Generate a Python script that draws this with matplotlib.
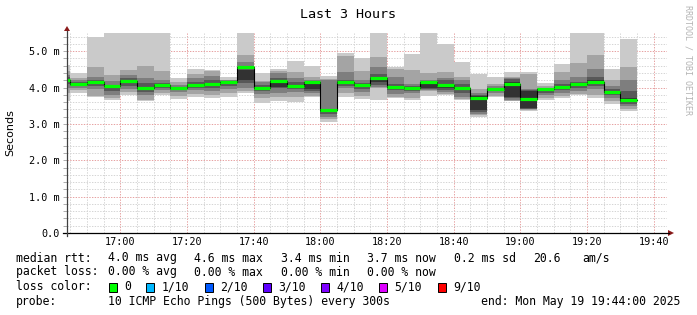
import matplotlib
matplotlib.use("Agg")
import matplotlib.pyplot as plt
import numpy as np
from matplotlib.lines import Line2D
from matplotlib.patches import Polygon, Rectangle
from matplotlib.ticker import MultipleLocator, FixedLocator

# ---------------- data ----------------
title = "Last 3 Hours"
first_bin = "16:40"          # start of first 5-minute bin
step_min = 5
view_start = "16:44"
view_end = "19:44"
x_tick_labels = ["17:00", "17:20", "17:40", "18:00", "18:20", "18:40", "19:00", "19:20", "19:40"]
y_tick_values = [0, 1, 2, 3, 4, 5]
y_tick_labels = ["0.0", "1.0 m", "2.0 m", "3.0 m", "4.0 m", "5.0 m"]

# sorted ping RTTs per bin (ms), rank 1 (fastest) .. rank 10 (slowest)
ping_1 = [3.62, 3.85, 3.74, 3.65, 3.79, 3.64, 3.79, 3.69, 3.75, 3.72, 3.75, 3.85, 3.57, 3.62, 3.60, 3.73, 3.06, 3.73,
          3.68, 3.67, 3.70, 3.65, 3.78, 3.79, 3.65, 3.19, 3.73, 3.62, 3.36, 3.65, 3.72, 3.79, 3.71, 3.56, 3.36]
ping_2 = [3.85, 3.92, 3.77, 3.72, 3.88, 3.66, 3.85, 3.78, 3.82, 3.80, 3.85, 3.90, 3.70, 3.73, 3.75, 3.78, 3.14, 3.85,
          3.78, 3.98, 3.75, 3.72, 3.90, 3.82, 3.68, 3.24, 3.78, 3.64, 3.38, 3.72, 3.78, 3.82, 3.80, 3.62, 3.42]
ping_3 = [4.00, 3.98, 3.95, 3.80, 3.95, 3.80, 3.92, 3.88, 3.92, 3.90, 3.95, 3.98, 3.82, 3.85, 3.88, 3.85, 3.20, 3.98,
          3.88, 4.02, 3.82, 3.85, 3.93, 3.88, 3.75, 3.28, 3.85, 3.67, 3.40, 3.80, 3.86, 3.90, 3.95, 3.70, 3.50]
ping_4 = [4.10, 4.03, 4.03, 3.90, 4.05, 3.88, 3.98, 3.93, 4.00, 4.00, 4.05, 4.12, 3.90, 3.98, 3.95, 3.90, 3.26, 4.05,
          3.97, 4.08, 3.92, 3.90, 3.95, 3.94, 3.85, 3.33, 3.90, 3.70, 3.42, 3.85, 3.93, 3.98, 4.05, 3.80, 3.55]
ping_5 = [4.17, 4.09, 4.12, 4.01, 4.14, 3.96, 4.04, 3.96, 4.05, 4.06, 4.12, 4.20, 3.96, 4.02, 4.02, 3.95, 3.33, 4.12,
          4.04, 4.14, 4.00, 3.97, 3.98, 4.00, 3.95, 3.38, 3.94, 3.74, 3.45, 3.90, 3.98, 4.05, 4.12, 3.85, 3.60]
ping_6 = [4.24, 4.13, 4.16, 4.05, 4.20, 4.00, 4.10, 4.00, 4.11, 4.12, 4.16, 4.49, 4.02, 4.18, 4.08, 4.12, 3.37, 4.17,
          4.08, 4.28, 4.04, 4.00, 4.10, 4.10, 4.02, 3.76, 3.98, 4.14, 3.90, 3.93, 4.05, 4.12, 4.20, 3.90, 3.70]
ping_7 = [4.28, 4.16, 4.22, 4.08, 4.26, 4.12, 4.13, 4.02, 4.15, 4.20, 4.17, 4.57, 4.06, 4.25, 4.15, 4.16, 3.40, 4.22,
          4.12, 4.37, 4.10, 4.03, 4.12, 4.21, 4.10, 3.80, 4.00, 4.24, 3.92, 3.95, 4.10, 4.15, 4.30, 3.95, 3.90]
ping_8 = [4.35, 4.20, 4.30, 4.18, 4.35, 4.27, 4.22, 4.08, 4.25, 4.32, 4.20, 4.71, 4.14, 4.40, 4.26, 4.20, 4.21, 4.44,
          4.22, 4.57, 4.30, 4.10, 4.22, 4.26, 4.20, 3.85, 4.03, 4.27, 3.95, 3.98, 4.20, 4.30, 4.52, 4.05, 4.22]
ping_9 = [4.45, 4.26, 4.57, 4.35, 4.48, 4.60, 4.46, 4.15, 4.38, 4.45, 4.22, 4.89, 4.18, 4.45, 4.44, 4.28, 4.24, 4.86,
          4.45, 4.84, 4.50, 4.48, 4.39, 4.43, 4.28, 3.95, 4.10, 4.30, 4.38, 4.05, 4.43, 4.68, 4.89, 4.22, 4.57]
ping_10 = [4.62, 4.41, 5.39, 5.80, 5.80, 5.80, 5.80, 4.25, 4.51, 4.48, 4.28, 5.80, 4.40, 4.50, 4.72, 4.60, 4.31, 4.94,
           4.80, 5.80, 4.57, 4.92, 5.80, 5.21, 4.69, 4.36, 4.30, 4.43, 4.42, 4.13, 4.64, 5.80, 5.80, 4.52, 5.33]
median = [4.21, 4.11, 4.14, 4.03, 4.17, 3.98, 4.07, 3.98, 4.08, 4.09, 4.15, 4.56, 4.00, 4.19, 4.05, 4.14, 3.37, 4.15,
          4.07, 4.27, 4.02, 3.99, 4.16, 4.07, 4.00, 3.72, 3.96, 4.10, 3.69, 3.95, 4.01, 4.09, 4.15, 3.87, 3.66]

# legend statistics as printed
rtt_stats = ["4.0 ms avg", "4.6 ms max", "3.4 ms min", "3.7 ms now", "0.2 ms sd", "20.6", "am/s"]
loss_stats = ["0.00 % avg", "0.00 % max", "0.00 % min", "0.00 % now"]
loss_labels = ["0", "1/10", "2/10", "3/10", "4/10", "5/10", "9/10"]
loss_colors = ["#00ff00", "#00b8ff", "#0059ff", "#5e00ff", "#7e00ff", "#dd00ff", "#ff0000"]
probe_text = "10 ICMP Echo Pings (500 Bytes) every 300s"
end_text = "end: Mon May 19 19:44:00 2025"

# ---------------- helpers ----------------
def tmin(s):
    h, m = s.split(":")
    return int(h) * 60 + int(m)

W, H = 697, 315
fig = plt.figure(figsize=(W / 100, H / 100), dpi=100)
fig.patch.set_facecolor("white")

L, R, B, T = 67, 667, 233, 33
ax = fig.add_axes([L / W, 1 - B / H, (R - L) / W, (B - T) / H])
ax.set_facecolor("white")

n = len(median)
edges = tmin(first_bin) + step_min * np.arange(n + 1)
pings = [ping_1, ping_2, ping_3, ping_4, ping_5, ping_6, ping_7, ping_8, ping_9, ping_10]
shades = ["#cacaca", "#a4a4a4", "#7e7e7e", "#585858", "#323232"]
for i in range(5):
    lo = np.array(pings[i], dtype=float)
    hi = np.array(pings[9 - i], dtype=float)
    ax.fill_between(edges, np.append(lo, lo[-1]), np.append(hi, hi[-1]), step="post",
                    color=shades[i], lw=0, antialiased=False, zorder=1)

med = np.array(median, dtype=float)
ax.step(edges, np.append(med, med[-1]), where="post", color="#000000", lw=0.8, zorder=4)
ax.hlines(med, edges[:-1], edges[1:], colors="#00ff00", lw=2.3, zorder=5, capstyle="butt")

ax.set_xlim(tmin(view_start), tmin(view_end))
ax.set_ylim(0, 5.5)

# grid
xt = [tmin(s) for s in x_tick_labels]
ax.xaxis.set_major_locator(FixedLocator(xt))
ax.xaxis.set_minor_locator(MultipleLocator(5))
ax.set_xticklabels(x_tick_labels)
ax.set_yticks(y_tick_values)
ax.set_yticklabels(y_tick_labels)
ax.yaxis.set_minor_locator(MultipleLocator(0.2))
ax.set_axisbelow(True)
ax.grid(which="minor", color="#d4d4d4", lw=0.7, linestyle=(0, (1.4, 1.4)))
ax.grid(which="major", color="#e6a0a0", lw=0.7, linestyle=(0, (1.4, 1.4)))

for sp in ax.spines.values():
    sp.set_visible(False)
mono = "DejaVu Sans Mono"
ax.tick_params(axis="y", which="both", length=3, width=0.6, color="#a0a0a0", direction="out", pad=2.0)
ax.tick_params(axis="x", which="both", length=0, pad=3.0)
for lab in ax.get_yticklabels() + ax.get_xticklabels():
    lab.set_fontfamily(mono)
    lab.set_fontsize(7.3)

# axes lines and arrows
fig.add_artist(Line2D([63 / W, 669 / W], [1 - 233 / H] * 2, transform=fig.transFigure, color="black", lw=0.9))
fig.add_artist(Line2D([67 / W] * 2, [1 - 236 / H, 1 - 31 / H], transform=fig.transFigure, color="#404040", lw=0.9))
arrow_c = "#8b1a1a"
fig.add_artist(Polygon([[64 / W, 1 - 31 / H], [70 / W, 1 - 31 / H], [67 / W, 1 - 26 / H]],
                       closed=True, transform=fig.transFigure, color=arrow_c, lw=0))
fig.add_artist(Polygon([[668 / W, 1 - 230 / H], [668 / W, 1 - 236 / H], [674 / W, 1 - 233 / H]],
                       closed=True, transform=fig.transFigure, color=arrow_c, lw=0))

# titles
fig.text(348 / W, 1 - 14 / H, title, ha="center", va="center", family=mono, fontsize=9.6)
fig.text(10 / W, 1 - 133 / H, "Seconds", ha="center", va="center", rotation=90, family="DejaVu Sans", fontsize=8)
fig.text(688 / W, 1 - 5 / H, "RRDTOOL / TOBI OETIKER", ha="center", va="top", rotation=270,
         family=mono, fontsize=6, color="#b4b4b4")

# legend
fs = 8.3
def t(x, y, s):
    fig.text(x / W, 1 - y / H, s, ha="left", va="center", family=mono, fontsize=fs)

r1 = 258
t(16, r1, "median rtt:")
for x, s in zip([108, 194, 281, 367, 454, 533, 582], rtt_stats):
    t(x, r1, s)
r2 = 272
t(16, r2, "packet loss:")
for x, s in zip([108, 194, 281, 367], loss_stats):
    t(x, r2, s)
r3 = 287
t(16, r3, "loss color:")
box_x = [108.6, 146, 204.6, 262.7, 321, 379, 438]
for bx, lab, c in zip(box_x, loss_labels, loss_colors):
    fig.add_artist(Rectangle((bx / W, 1 - (r3 + 4.5) / H), 8 / W, 9 / H, facecolor=c, edgecolor="black",
                             lw=0.7, transform=fig.transFigure))
    t(bx + 15.5, r3, lab)
r4 = 301
t(16, r4, "probe:")
t(108, r4, probe_text)
t(481, r4, end_text)

fig.savefig("out.png", dpi=100, facecolor="white")
